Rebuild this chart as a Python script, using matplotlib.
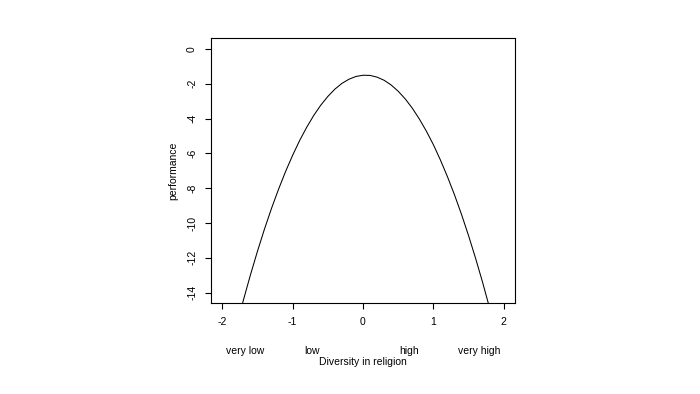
import matplotlib
matplotlib.use("Agg")
import matplotlib.pyplot as plt

# points
x_vals = [-1.8, -1.7, -1.6, -1.5, -1.4, -1.3, -1.2, -1.1, -1.0, -0.9,
          -0.8, -0.7, -0.6, -0.5, -0.4, -0.3, -0.2, -0.1, 0.0, 0.1,
          0.2, 0.3, 0.4, 0.5, 0.6, 0.7, 0.8, 0.9, 1.0, 1.1,
          1.2, 1.3, 1.4, 1.5, 1.6, 1.7, 1.8]
perf = [-15.98, -14.44, -12.99, -11.63, -10.35, -9.16, -8.06, -7.04, -6.11, -5.26,
        -4.50, -3.82, -3.23, -2.73, -2.31, -1.98, -1.74, -1.58, -1.51, -1.52,
        -1.62, -1.80, -2.07, -2.43, -2.87, -3.40, -4.02, -4.72, -5.50, -6.38,
        -7.34, -8.38, -9.51, -10.73, -12.03, -13.42, -14.90]

x_ticks = [-2, -1, 0, 1, 2]
y_ticks = [0, -2, -4, -6, -8, -10, -12, -14]
level_labels = ["very low", "low", "high", "very high"]
level_pos = [-1.68, -0.73, 0.65, 1.65]

plt.rcParams['font.family'] = ['Liberation Sans', 'DejaVu Sans']
fs = 7.5

fig = plt.figure(figsize=(7, 3.94), dpi=100)
ax = fig.add_axes([211/700, 91/394, 304/700, 265/394])
ax.plot(x_vals, perf, color="black", lw=0.75)
ax.set_xlim(-2.16, 2.16)
ax.set_ylim(-14.6, 0.63)

ax.set_xticks(x_ticks)
ax.set_xticklabels([str(v) for v in x_ticks], fontsize=fs)
ax.set_yticks(y_ticks)
ax.set_yticklabels([str(v) for v in y_ticks], fontsize=fs, rotation=90, va="center")
ax.tick_params(direction="out", length=4, width=0.8, pad=6)
for s in ax.spines.values():
    s.set_linewidth(0.8)

ax.set_ylabel("performance", fontsize=fs, labelpad=6)
for lab, p in zip(level_labels, level_pos):
    ax.text(p, -0.18, lab, transform=ax.get_xaxis_transform(), ha="center", va="center", fontsize=fs)
ax.text(0, -0.222, "Diversity in religion", transform=ax.get_xaxis_transform(),
        ha="center", va="center", fontsize=fs)

fig.savefig("out.png", dpi=100)
